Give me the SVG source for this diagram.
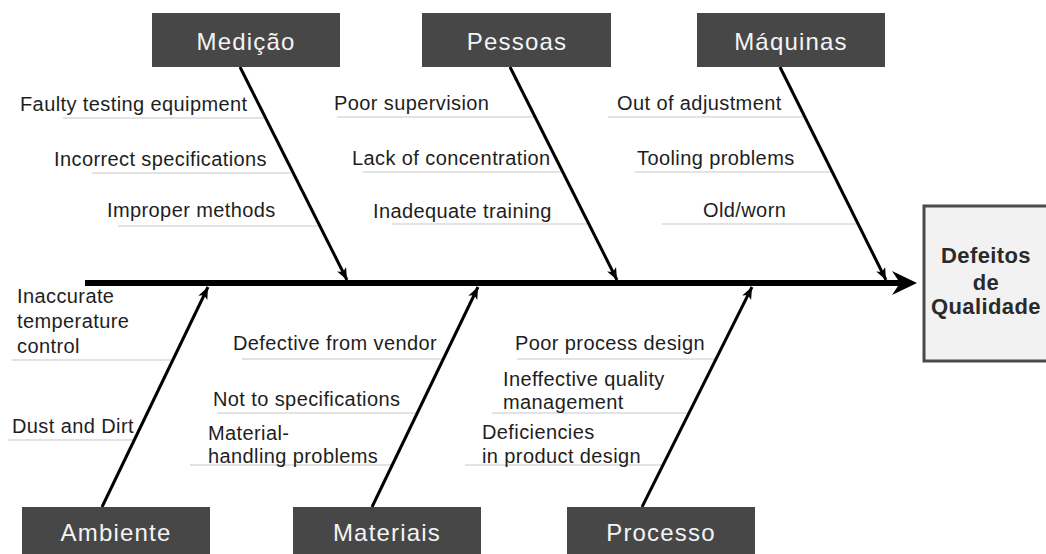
<svg xmlns="http://www.w3.org/2000/svg" width="1046" height="554" viewBox="0 0 1046 554">
  <style>
    .cat rect { fill: #474747; }
    .cat text { font-family: "Liberation Sans", Arial, sans-serif; font-size: 24px; fill: #f4f4f4; text-anchor: middle; letter-spacing: 1.2px; }
    .cause { font-family: "Liberation Sans", Arial, sans-serif; font-size: 20px; fill: #1e1e1e; letter-spacing: 0.4px; }
    .rule { stroke: #c8c8c8; stroke-width: 1.2; fill: none; }
    .bone { stroke: #000; stroke-width: 3; fill: none; marker-end: url(#tip); }
    .effect rect { fill: #f2f2f2; stroke: #4a4a4a; stroke-width: 3; }
    .effect text { font-family: "Liberation Sans", Arial, sans-serif; font-size: 22px; font-weight: bold; fill: #2a2a2a; text-anchor: middle; letter-spacing: 0.4px; }
  </style>
  <defs>
    <marker id="tip" markerUnits="userSpaceOnUse" markerWidth="14" markerHeight="12" refX="12" refY="5" orient="auto">
      <path d="M0,0 L12,5 L0,10 L3,5 Z" fill="#000"/>
    </marker>
  </defs>

  <rect width="1046" height="554" fill="#fff"/>

  <!-- effect box -->
  <g id="effect" class="effect">
    <rect x="924" y="206" width="130" height="155"/>
    <text x="986" y="263">Defeitos</text>
    <text x="986" y="290">de</text>
    <text x="986" y="314">Qualidade</text>
  </g>

  <!-- cause sub-branches (thin rules under each label) -->
  <g id="rules">
    <line class="rule" x1="63" y1="118" x2="264" y2="118"/>
    <line class="rule" x1="92" y1="173" x2="291" y2="173"/>
    <line class="rule" x1="118" y1="226" x2="318" y2="226"/>
    <line class="rule" x1="337" y1="117" x2="534" y2="117"/>
    <line class="rule" x1="363" y1="172" x2="561" y2="172"/>
    <line class="rule" x1="392" y1="224" x2="587" y2="224"/>
    <line class="rule" x1="608" y1="117" x2="804" y2="117"/>
    <line class="rule" x1="635" y1="172" x2="831" y2="172"/>
    <line class="rule" x1="662" y1="224" x2="857" y2="224"/>
    <line class="rule" x1="12" y1="360" x2="173" y2="360"/>
    <line class="rule" x1="8" y1="440" x2="134" y2="440"/>
    <line class="rule" x1="242" y1="359" x2="444" y2="359"/>
    <line class="rule" x1="217" y1="413" x2="418" y2="413"/>
    <line class="rule" x1="190" y1="465" x2="393" y2="465"/>
    <line class="rule" x1="517" y1="359" x2="716" y2="359"/>
    <line class="rule" x1="492" y1="413" x2="689" y2="413"/>
    <line class="rule" x1="465" y1="465" x2="663" y2="465"/>
  </g>

  <!-- spine and main bones -->
  <g id="connectors">
    <line x1="85" y1="283" x2="900" y2="283" stroke="#000" stroke-width="6"/>
    <path d="M917,283 L892,271 L900,283 L892,295 Z" fill="#000"/>
    <line class="bone" x1="240" y1="67" x2="347" y2="280"/>
    <line class="bone" x1="510" y1="67" x2="617" y2="280"/>
    <line class="bone" x1="780" y1="67" x2="886" y2="280"/>
    <line class="bone" x1="102" y1="507" x2="208" y2="287"/>
    <line class="bone" x1="372" y1="507" x2="478" y2="287"/>
    <line class="bone" x1="642" y1="507" x2="752" y2="287"/>
  </g>

  <!-- category boxes -->
  <g id="medicao" class="cat">
    <rect x="152" y="13" width="188" height="54"/>
    <text x="246" y="50">Medição</text>
  </g>
  <g id="pessoas" class="cat">
    <rect x="422" y="13" width="189" height="54"/>
    <text x="517" y="50">Pessoas</text>
  </g>
  <g id="maquinas" class="cat">
    <rect x="697" y="13" width="188" height="54"/>
    <text x="791" y="50">Máquinas</text>
  </g>
  <g id="ambiente" class="cat">
    <rect x="22" y="507" width="188" height="60"/>
    <text x="116" y="541">Ambiente</text>
  </g>
  <g id="materiais" class="cat">
    <rect x="293" y="507" width="188" height="60"/>
    <text x="387" y="541">Materiais</text>
  </g>
  <g id="processo" class="cat">
    <rect x="567" y="507" width="188" height="60"/>
    <text x="661" y="541">Processo</text>
  </g>

  <!-- cause labels -->
  <g id="causes-medicao">
    <text class="cause" x="20" y="111">Faulty testing equipment</text>
    <text class="cause" x="54" y="166">Incorrect specifications</text>
    <text class="cause" x="107" y="217">Improper methods</text>
  </g>
  <g id="causes-pessoas">
    <text class="cause" x="334" y="110">Poor supervision</text>
    <text class="cause" x="352" y="165">Lack of concentration</text>
    <text class="cause" x="373" y="218">Inadequate training</text>
  </g>
  <g id="causes-maquinas">
    <text class="cause" x="617" y="110">Out of adjustment</text>
    <text class="cause" x="637" y="165">Tooling problems</text>
    <text class="cause" x="703" y="217">Old/worn</text>
  </g>
  <g id="causes-ambiente">
    <text class="cause" x="17" y="303">Inaccurate<tspan x="17" y="328">temperature</tspan><tspan x="17" y="353">control</tspan></text>
    <text class="cause" x="12" y="433">Dust and Dirt</text>
  </g>
  <g id="causes-materiais">
    <text class="cause" x="233" y="350">Defective from vendor</text>
    <text class="cause" x="213" y="406">Not to specifications</text>
    <text class="cause" x="208" y="440">Material-<tspan x="208" y="463">handling problems</tspan></text>
  </g>
  <g id="causes-processo">
    <text class="cause" x="515" y="350">Poor process design</text>
    <text class="cause" x="503" y="386">Ineffective quality<tspan x="503" y="409">management</tspan></text>
    <text class="cause" x="482" y="439">Deficiencies<tspan x="482" y="463">in product design</tspan></text>
  </g>
</svg>
